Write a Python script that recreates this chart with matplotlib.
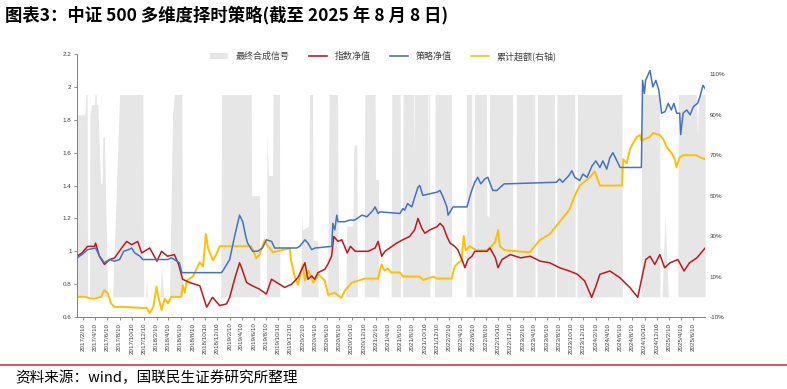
import numpy as np
import pandas as pd
import matplotlib
matplotlib.use("Agg")
import matplotlib.pyplot as plt
from matplotlib.patches import Patch
from matplotlib.lines import Line2D

plt.rcParams['font.family'] = ['Noto Sans CJK SC', 'DejaVu Sans']

# 指数净值 (left axis)
idx_dates = ["2017-01-10", "2017-02-03", "2017-03-03", "2017-04-07", "2017-04-12", "2017-05-01",
             "2017-05-26", "2017-06-22", "2017-07-16", "2017-08-20", "2017-09-14", "2017-10-09",
             "2017-11-08", "2017-11-28", "2018-01-07", "2018-02-12", "2018-03-07", "2018-04-06",
             "2018-05-10", "2018-05-31", "2018-06-20", "2018-07-25", "2018-09-14", "2018-10-18",
             "2018-11-16", "2018-12-22", "2019-01-25", "2019-02-10", "2019-03-06", "2019-03-31",
             "2019-04-10", "2019-05-05", "2019-06-03", "2019-07-08", "2019-08-12", "2019-09-06",
             "2019-10-16", "2019-11-11", "2019-12-16", "2020-01-16", "2020-02-20", "2020-03-06",
             "2020-03-25", "2020-04-09", "2020-04-25", "2020-05-29", "2020-06-13", "2020-07-02",
             "2020-07-13", "2020-08-03", "2020-08-22", "2020-09-18", "2020-10-04", "2020-10-28",
             "2020-12-03", "2021-01-01", "2021-02-04", "2021-02-19", "2021-03-09", "2021-03-25",
             "2021-04-29", "2021-05-23", "2021-06-22", "2021-07-26", "2021-08-20", "2021-09-06",
             "2021-09-25", "2021-10-10", "2021-11-04", "2021-12-10", "2021-12-25", "2022-01-10",
             "2022-01-28", "2022-02-13", "2022-03-08", "2022-03-23", "2022-04-13", "2022-04-28",
             "2022-05-13", "2022-06-02", "2022-06-16", "2022-07-13", "2022-08-16", "2022-08-31",
             "2022-09-27", "2022-10-10", "2022-10-30", "2022-12-10", "2023-01-31", "2023-03-20",
             "2023-05-08", "2023-06-25", "2023-08-13", "2023-10-01", "2023-11-10", "2023-12-16",
             "2024-01-20", "2024-02-08", "2024-03-01", "2024-04-20", "2024-06-08", "2024-07-28",
             "2024-09-06", "2024-09-30", "2024-10-16", "2024-11-06", "2024-11-30", "2024-12-25",
             "2025-01-18", "2025-02-14", "2025-03-25", "2025-04-25", "2025-05-22", "2025-06-28",
             "2025-08-08"]
idx_vals = [0.97, 0.99, 1.03, 1.03, 1.05, 0.97,
            0.92, 0.95, 0.96, 1.02, 1.06, 1.04,
            1.06, 0.99, 1.02, 0.94, 1.00, 0.97,
            0.98, 0.92, 0.83, 0.81, 0.79, 0.66,
            0.72, 0.67, 0.68, 0.72, 0.83, 0.93,
            0.90, 0.81, 0.79, 0.77, 0.74, 0.83,
            0.80, 0.78, 0.80, 0.84, 0.93, 0.83,
            0.85, 0.83, 0.87, 0.89, 0.92, 0.97,
            1.09, 1.06, 1.07, 0.99, 1.03, 1.00,
            1.00, 1.00, 1.02, 1.06, 0.97, 1.00,
            1.03, 1.05, 1.07, 1.09, 1.13, 1.20,
            1.14, 1.11, 1.13, 1.15, 1.17, 1.15,
            1.09, 1.05, 1.03, 1.01, 0.95, 0.90,
            0.95, 0.97, 1.00, 1.00, 1.00, 1.02,
            0.96, 0.90, 0.95, 0.98, 0.96, 0.97,
            0.94, 0.93, 0.90, 0.88, 0.86, 0.82,
            0.72, 0.78, 0.86, 0.88, 0.84, 0.78,
            0.72, 0.86, 0.95, 0.97, 0.92, 0.98,
            0.90, 0.93, 0.95, 0.88, 0.93, 0.96,
            1.02]

# 策略净值 (left axis)
stg_dates = ["2017-01-10", "2017-02-03", "2017-03-03", "2017-04-12", "2017-05-02", "2017-05-26",
             "2017-06-21", "2017-07-15", "2017-08-10", "2017-08-30", "2017-09-24", "2017-10-09",
             "2017-10-24", "2017-11-19", "2017-12-04", "2018-04-07", "2018-04-25", "2018-05-10",
             "2018-06-04", "2018-06-16", "2018-12-31", "2019-01-11", "2019-02-10", "2019-03-06",
             "2019-03-31", "2019-04-16", "2019-05-01", "2019-05-10", "2019-06-04", "2019-06-29",
             "2019-07-23", "2019-08-12", "2019-09-07", "2019-09-22", "2020-01-10", "2020-01-25",
             "2020-02-20", "2020-03-06", "2020-03-25", "2020-04-10", "2020-07-03", "2020-07-08",
             "2020-07-18", "2020-07-28", "2020-08-03", "2020-09-06", "2020-10-01", "2020-10-25",
             "2020-12-01", "2020-12-25", "2021-01-10", "2021-01-25", "2021-02-04", "2021-02-19",
             "2021-02-28", "2021-06-08", "2021-06-22", "2021-07-01", "2021-07-16", "2021-08-06",
             "2021-08-21", "2021-09-06", "2021-09-15", "2021-09-30", "2021-11-04", "2021-12-10",
             "2021-12-25", "2022-01-09", "2022-01-28", "2022-02-03", "2022-02-28", "2022-05-08",
             "2022-05-22", "2022-06-01", "2022-06-16", "2022-07-01", "2022-07-16", "2022-08-05",
             "2022-08-20", "2022-09-14", "2022-10-04", "2022-11-09", "2023-07-28", "2023-08-13",
             "2023-08-28", "2023-09-28", "2023-10-13", "2023-10-28", "2023-11-22", "2023-12-07",
             "2023-12-28", "2024-01-22", "2024-02-10", "2024-03-01", "2024-03-16", "2024-04-04",
             "2024-04-20", "2024-05-05", "2024-05-25", "2024-06-10", "2024-09-24", "2024-09-30",
             "2024-10-09", "2024-10-15", "2024-11-06", "2024-11-20", "2024-12-05", "2024-12-20",
             "2025-01-03", "2025-01-20", "2025-02-05", "2025-02-20", "2025-03-05", "2025-03-19",
             "2025-04-03", "2025-04-08", "2025-04-20", "2025-05-08", "2025-05-25", "2025-06-10",
             "2025-07-01", "2025-07-13", "2025-07-28", "2025-08-08"]
stg_vals = [0.96, 0.98, 1.01, 1.02, 0.97, 0.93,
            0.95, 0.94, 0.95, 1.00, 1.01, 1.02,
            0.99, 0.97, 0.95, 0.95, 0.96, 0.95,
            0.93, 0.87, 0.87, 0.89, 0.95, 1.09,
            1.22, 1.18, 1.09, 1.05, 1.00, 1.00,
            1.02, 1.07, 1.06, 1.02, 1.02, 1.03,
            1.07, 1.05, 1.01, 1.02, 1.03, 1.17,
            1.13, 1.22, 1.18, 1.18, 1.19, 1.19,
            1.22, 1.21, 1.23, 1.25, 1.27, 1.23,
            1.24, 1.23, 1.26, 1.25, 1.29, 1.27,
            1.33, 1.39, 1.40, 1.34, 1.35, 1.36,
            1.37, 1.33, 1.27, 1.22, 1.27, 1.27,
            1.33, 1.37, 1.42, 1.45, 1.41, 1.44,
            1.45, 1.37, 1.37, 1.41, 1.42, 1.44,
            1.42, 1.46, 1.49, 1.45, 1.43, 1.47,
            1.45, 1.52, 1.55, 1.51, 1.55, 1.50,
            1.57, 1.60, 1.55, 1.51, 1.51, 2.04,
            1.96, 2.04, 2.10, 2.00, 2.04, 1.98,
            1.84, 1.85, 1.90, 1.86, 1.90, 1.84,
            1.84, 1.71, 1.84, 1.86, 1.83, 1.88,
            1.90, 1.94, 2.01, 1.99]

# 累计超额 (right axis, %)
exc_dates = ["2017-01-10", "2017-02-18", "2017-03-13", "2017-04-07", "2017-05-10", "2017-05-25",
             "2017-06-12", "2017-06-28", "2017-07-15", "2017-09-04", "2017-11-27", "2017-12-22",
             "2018-01-07", "2018-01-25", "2018-02-10", "2018-02-19", "2018-03-07", "2018-03-23",
             "2018-04-08", "2018-04-25", "2018-05-28", "2018-06-13", "2018-06-21", "2018-07-01",
             "2018-07-10", "2018-08-10", "2018-09-13", "2018-09-30", "2018-10-14", "2018-10-25",
             "2018-11-02", "2018-11-19", "2018-12-05", "2018-12-22", "2019-05-28", "2019-06-05",
             "2019-06-22", "2019-07-09", "2019-08-03", "2019-08-19", "2019-09-06", "2019-09-13",
             "2019-12-06", "2019-12-13", "2019-12-31", "2020-01-16", "2020-02-10", "2020-02-20",
             "2020-03-08", "2020-04-02", "2020-04-27", "2020-05-29", "2020-06-15", "2020-07-17",
             "2020-08-20", "2020-09-06", "2020-10-10", "2020-11-12", "2020-12-15", "2021-02-19",
             "2021-03-08", "2021-03-23", "2021-04-09", "2021-04-25", "2021-05-13", "2021-06-07",
             "2021-06-23", "2021-09-15", "2021-10-01", "2021-11-22", "2021-12-08", "2022-02-21",
             "2022-03-08", "2022-03-25", "2022-04-11", "2022-04-22", "2022-05-02", "2022-05-22",
             "2022-06-24", "2022-08-14", "2022-09-08", "2022-09-25", "2022-10-11", "2022-10-19",
             "2022-11-13", "2023-03-17", "2023-04-11", "2023-05-06", "2023-06-25", "2023-08-13",
             "2023-10-01", "2023-10-28", "2023-11-22", "2024-01-10", "2024-02-04", "2024-03-01",
             "2024-06-19", "2024-06-25", "2024-07-13", "2024-07-29", "2024-08-14", "2024-09-01",
             "2024-09-18", "2024-09-25", "2024-10-11", "2024-11-05", "2024-11-21", "2024-12-24",
             "2025-01-11", "2025-01-28", "2025-02-22", "2025-03-10", "2025-03-18", "2025-04-03",
             "2025-04-20", "2025-06-25", "2025-07-13", "2025-08-08"]
exc_vals = [0.0, 0.0, -0.7, -0.9, 0.0, 3.3,
            1.7, -3.2, -5.0, -5.0, -5.5, -5.5,
            -8.0, -5.0, 5.0, 0.0, -6.5, -1.0,
            -3.2, 0.0, 0.0, 0.0, 5.8, 2.0,
            8.0, 10.0, 17.0, 15.0, 31.0, 24.0,
            22.0, 18.0, 21.0, 25.0, 25.0, 23.5,
            19.0, 21.0, 28.0, 25.0, 23.0, 22.0,
            24.0, 18.0, 10.0, 6.0, 16.0, 8.0,
            13.0, 7.0, 11.0, 8.0, 1.0, 2.0,
            -0.5, 3.0, 7.0, 8.0, 9.0, 9.0,
            16.0, 13.0, 14.0, 12.0, 12.0, 12.0,
            10.0, 10.0, 8.3, 10.0, 9.0, 9.0,
            15.0, 16.7, 18.0, 30.0, 23.0, 25.0,
            23.0, 23.0, 25.0, 27.0, 33.0, 25.0,
            23.0, 22.0, 25.0, 28.0, 31.0, 37.0,
            43.0, 50.0, 55.0, 59.0, 62.0, 55.0,
            55.0, 68.0, 66.0, 73.0, 76.0, 79.0,
            80.0, 77.0, 78.0, 79.0, 81.0, 80.0,
            78.0, 74.0, 71.0, 68.0, 64.0, 69.0,
            70.0, 70.0, 69.0, 68.0]

# 最终合成信号 (right axis, 0-1)
sig_dates = ["2017-01-10", "2017-02-18", "2017-02-23", "2017-03-01", "2017-03-03", "2017-03-13",
             "2017-03-15", "2017-03-23", "2017-04-07", "2017-04-09", "2017-04-15", "2017-04-16",
             "2017-04-23", "2017-05-07", "2017-05-15", "2017-05-18", "2017-05-26", "2017-06-11",
             "2017-07-06", "2017-08-10", "2017-12-04", "2017-12-08", "2017-12-18", "2017-12-22",
             "2017-12-26", "2018-02-26", "2018-03-07", "2018-03-17", "2018-04-16", "2018-05-01",
             "2018-05-10", "2018-06-16", "2018-06-20", "2018-12-27", "2019-01-01", "2019-05-28",
             "2019-05-30", "2019-07-09", "2019-07-10", "2019-08-12", "2019-08-15", "2019-08-22",
             "2019-09-12", "2019-09-14", "2019-10-16", "2019-10-18", "2020-02-01", "2020-02-03",
             "2020-02-08", "2020-03-10", "2020-03-14", "2020-03-29", "2020-03-31", "2020-04-24",
             "2020-04-26", "2020-06-12", "2020-06-20", "2020-08-01", "2020-08-05", "2020-09-11",
             "2020-09-16", "2020-10-16", "2020-10-21", "2020-11-05", "2020-11-07", "2020-12-12",
             "2020-12-15", "2021-02-04", "2021-02-06", "2021-02-21", "2021-02-23", "2021-04-25",
             "2021-04-28", "2021-06-09", "2021-06-11", "2021-06-21", "2021-06-23", "2021-08-15",
             "2021-08-17", "2021-08-19", "2021-10-25", "2021-10-27", "2021-10-29", "2021-11-03",
             "2021-11-05", "2021-11-28", "2021-11-30", "2022-02-19", "2022-02-21", "2022-05-04",
             "2022-05-06", "2022-06-01", "2022-06-03", "2022-06-13", "2022-06-15", "2022-08-13",
             "2022-08-15", "2022-08-27", "2022-08-29", "2022-12-21", "2022-12-23", "2023-01-08",
             "2023-01-10", "2023-04-11", "2023-04-13", "2023-04-23", "2023-04-25", "2023-07-19",
             "2023-07-21", "2023-07-29", "2023-07-31", "2023-10-28", "2023-10-30", "2023-11-08",
             "2023-11-10", "2024-06-19", "2024-06-21", "2024-09-23", "2024-09-25", "2024-12-24",
             "2024-12-26", "2025-01-05", "2025-01-20", "2025-02-05", "2025-02-07", "2025-03-25",
             "2025-03-27", "2025-06-25", "2025-07-01", "2025-07-06", "2025-08-08"]
sig_vals = [0.90, 0.90, 1.0, 1.0, 0.0, 0.0,
            0.90, 0.95, 0.95, 1.0, 1.0, 0.95,
            0.95, 0.56, 0.56, 0.79, 0.79, 0.0,
            0.0, 1.0, 1.0, 0.0, 0.0, 0.10,
            0.0, 0.0, 0.15, 0.0, 0.0, 0.90,
            1.0, 1.0, 0.0, 0.0, 1.0, 1.0,
            0.50, 0.50, 0.0, 0.0, 0.80, 0.60,
            0.60, 1.0, 1.0, 0.0, 0.0, 0.40,
            0.33, 0.35, 1.0, 1.0, 0.28, 0.28,
            0.0, 0.0, 1.0, 1.0, 0.0, 0.0,
            0.35, 0.35, 0.75, 0.75, 0.0, 0.0,
            1.0, 1.0, 0.58, 0.58, 0.0, 0.0,
            1.0, 1.0, 0.0, 0.0, 1.0, 1.0,
            0.70, 1.0, 1.0, 0.20, 1.0, 1.0,
            0.0, 0.0, 1.0, 1.0, 0.0, 0.0,
            1.0, 1.0, 0.0, 0.0, 1.0, 1.0,
            0.40, 0.40, 1.0, 1.0, 0.0, 0.0,
            1.0, 1.0, 0.0, 0.0, 1.0, 1.0,
            0.0, 0.0, 1.0, 1.0, 0.0, 0.0,
            1.0, 1.0, 0.0, 0.0, 1.0, 1.0,
            0.0, 0.0, 0.40, 0.0, 0.0, 0.0,
            1.0, 1.0, 0.80, 1.0, 1.0]

tick_dates = pd.date_range("2017-01-10", "2025-07-10", freq="2MS") + pd.Timedelta(days=9)
tick_labels = [f"{d.year}/{d.month}/10" for d in tick_dates]
left_ticks = [0.6, 0.8, 1.0, 1.2, 1.4, 1.6, 1.8, 2.0, 2.2]
left_labels = ["0.6", "0.8", "1", "1.2", "1.4", "1.6", "1.8", "2", "2.2"]
right_ticks = [-10, 10, 30, 50, 70, 90, 110]

c_red, c_blue, c_yel, c_gray = "#C0171F", "#4472C4", "#FFC000", "#E6E6E6"
axc = "#7F7F7F"

fig = plt.figure(figsize=(7.87, 3.89), dpi=100)
ax = fig.add_axes([0.098, 0.185, 0.798, 0.676])
ax2 = ax.twinx()

ax2.fill_between(pd.to_datetime(sig_dates), 0, np.array(sig_vals) * 100, color=c_gray, lw=0)
ax2.plot(pd.to_datetime(exc_dates), exc_vals, color=c_yel, lw=1.4)
ax.plot(pd.to_datetime(idx_dates), idx_vals, color=c_red, lw=1.1)
ax.plot(pd.to_datetime(stg_dates), stg_vals, color=c_blue, lw=1.1)
ax.set_zorder(ax2.get_zorder() + 1)
ax.patch.set_visible(False)

ax.set_xlim(pd.Timestamp("2017-01-10"), pd.Timestamp("2025-08-08"))
ax.set_ylim(0.6, 2.2)
ax2.set_ylim(-10, 120)

ax.set_yticks(left_ticks)
ax.set_yticklabels(left_labels)
ax2.set_yticks(right_ticks)
ax2.set_yticklabels([f"{v}%" for v in right_ticks])
ax.set_xticks(tick_dates)
ax.set_xticklabels(tick_labels, rotation=90)

for a in (ax, ax2):
    for s in a.spines.values():
        s.set_visible(False)
ax.spines["left"].set_visible(True)
ax.spines["bottom"].set_visible(True)
ax.spines["left"].set_color(axc)
ax.spines["bottom"].set_color(axc)
ax.spines["left"].set_linewidth(0.7)
ax.spines["bottom"].set_linewidth(0.7)
ax.tick_params(axis="both", labelsize=4.5, colors="#404040", length=2.5, width=0.6, pad=1.5)
ax.tick_params(axis="both", color=axc)
ax2.tick_params(axis="y", labelsize=4.5, colors="#404040", length=0, pad=3)
for lab in ax.get_xticklabels() + ax.get_yticklabels() + ax2.get_yticklabels():
    lab.set_family(["Liberation Sans", "DejaVu Sans"])

handles = [Patch(facecolor=c_gray, edgecolor="none"),
           Line2D([], [], color=c_red, lw=1.2),
           Line2D([], [], color=c_blue, lw=1.2),
           Line2D([], [], color=c_yel, lw=1.2)]
labels = ["最终合成信号", "指数净值", "策略净值", "累计超额(右轴)"]
fig.legend(handles, labels, loc="center", bbox_to_anchor=(0.487, 0.856), ncol=4, frameon=False,
           fontsize=6.5, handlelength=2.0, columnspacing=2.2, handletextpad=0.8,
           labelcolor="#404040")

fig.text(0.006, 0.962, "图表3：中证 500 多维度择时策略(截至 2025 年 8 月 8 日)", fontsize=12.5,
         fontweight="bold", va="center", ha="left")
fig.add_artist(Line2D([0.0, 1.0], [0.062, 0.062], color="#D6384F", lw=1.2))
fig.text(0.02, 0.028, "资料来源：wind，国联民生证券研究所整理", fontsize=10.5, va="center", ha="left")

fig.savefig("out.png", dpi=100)
